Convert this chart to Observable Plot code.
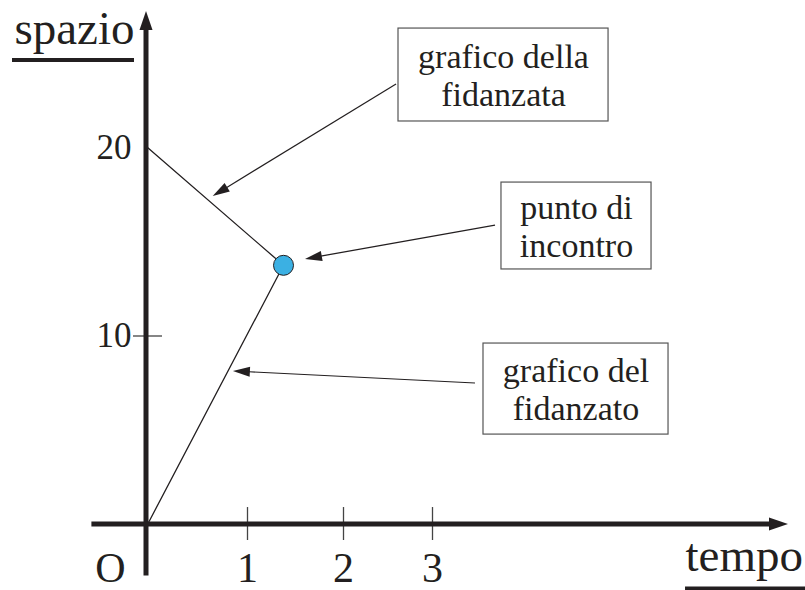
<!DOCTYPE html>
<html>
<head>
<meta charset="utf-8">
<script src="https://cdn.jsdelivr.net/npm/d3@7"></script>
<script src="https://cdn.jsdelivr.net/npm/@observablehq/plot@0.6"></script>
<style>
  html, body { margin: 0; padding: 0; background: #fff; }
  #chart svg { display: block; }
</style>
</head>
<body>
<div id="chart"></div>
<script>
// Time ticks (s) and space ticks (m)
const timeTicks = [1, 2, 3];
const spaceTicks = [10];
const spaceLabels = [20, 10];

// Meeting point: he runs from the origin, she walks back from 20
const meetT = 1.375;
const meetS = 13.75;
const fidanzato = [{t: 0, s: 0}, {t: meetT, s: meetS}];
const fidanzata = [{t: 0, s: 20}, {t: meetT, s: meetS}];

// Callout boxes (data units) and their text
const boxes = [
  {x1: 2.618, x2: 4.978, y1: 21.38, y2: 26.31, text: "grafico della\nfidanzata"},
  {x1: 3.775, x2: 5.461, y1: 13.53, y2: 18.14, text: "punto di\nincontro"},
  {x1: 3.573, x2: 5.652, y1: 4.77, y2: 9.60, text: "grafico del\nfidanzato"}
];

// Callout arrows: tail at the box, tip near the graph
const callouts = [
  {x1: 2.596, y1: 23.34, x2: 0.657, y2: 17.40},
  {x1: 3.708, y1: 15.86, x2: 1.604, y2: 14.06},
  {x1: 3.483, y1: 7.48, x2: 0.859, y2: 8.12}
];

// Axis extents with arrow tips
const axes = [
  {x1: -0.556, y1: 0, x2: 7.0, y2: 0},
  {x1: -0.01, y1: -2.73, x2: -0.01, y2: 27.22}
];

// Filled-head arrows drawn through the plot's x and y scales
function arrows(data, {stroke = "#000", strokeWidth = 1, headLength = 16, headWidth = 9} = {}) {
  return (index, scales) => {
    const g = d3.create("svg:g");
    for (const d of data) {
      const x1 = scales.x(d.x1), y1 = scales.y(d.y1);
      const x2 = scales.x(d.x2), y2 = scales.y(d.y2);
      const a = Math.atan2(y2 - y1, x2 - x1);
      const c = Math.cos(a), s = Math.sin(a);
      const bx = x2 - headLength * c, by = y2 - headLength * s;
      const hw = headWidth / 2;
      g.append("line")
        .attr("x1", x1).attr("y1", y1)
        .attr("x2", bx + c).attr("y2", by + s)
        .attr("stroke", stroke)
        .attr("stroke-width", strokeWidth);
      g.append("path")
        .attr("d", `M${x2},${y2}L${bx - hw * s},${by + hw * c}L${bx + hw * s},${by - hw * c}Z`)
        .attr("fill", stroke);
    }
    return g.node();
  };
}

const ink = "#231f20";
const serif = "Liberation Serif, Times New Roman, serif";

const chart = Plot.plot({
  width: 805,
  height: 590,
  margin: 0,
  style: {fontFamily: serif, background: "#fff", color: ink},
  x: {type: "linear", domain: [0, 1, 2, 3], range: [147, 247, 343, 432], axis: null},
  y: {type: "linear", domain: [0, 20], range: [524, 147], axis: null},
  marks: [
    // tick marks
    Plot.ruleX(timeTicks, {y1: 0.9, y2: -0.85, stroke: "#444", strokeWidth: 1.3}),
    Plot.ruleY(spaceTicks, {x1: -0.14, x2: 0.15, stroke: "#444", strokeWidth: 1.3}),
    // the two graphs
    Plot.line(fidanzata, {x: "t", y: "s", stroke: ink, strokeWidth: 1.3}),
    Plot.line(fidanzato, {x: "t", y: "s", stroke: ink, strokeWidth: 1.3}),
    // axes
    arrows(axes, {stroke: ink, strokeWidth: 5, headLength: 19, headWidth: 13}),
    // meeting point
    Plot.dot([{t: meetT, s: meetS}], {x: "t", y: "s", r: 10, fill: "#3bb0e3", stroke: ink, strokeWidth: 1}),
    // callouts
    arrows(callouts, {stroke: ink, strokeWidth: 1.2, headLength: 17, headWidth: 10}),
    Plot.rect(boxes, {x1: "x1", x2: "x2", y1: "y1", y2: "y2", fill: "#fff", stroke: "#555", strokeWidth: 1.2}),
    Plot.text(boxes, {
      x: d => (d.x1 + d.x2) / 2, y: d => (d.y1 + d.y2) / 2,
      text: "text", fontSize: 34, fontFamily: serif, lineHeight: 1.1, fill: ink,
      lineAnchor: "middle", textAnchor: "middle"
    }),
    // tick labels
    Plot.text(timeTicks, {x: d => d, y: -2.32, text: d => String(d), fontSize: 42, fontFamily: serif, fill: ink, lineAnchor: "middle"}),
    Plot.text(["O"], {x: -0.37, y: -2.32, text: d => d, fontSize: 42, fontFamily: serif, fill: ink, lineAnchor: "middle"}),
    Plot.text(spaceLabels, {x: -0.16, y: d => d, text: d => String(d), fontSize: 35, fontFamily: serif, fill: ink, textAnchor: "end", lineAnchor: "middle"}),
    // axis titles with underlines
    Plot.text(["spazio"], {x: -0.13, y: 25.5, text: d => d, fontSize: 47, fontFamily: serif, fill: ink, textAnchor: "end", lineAnchor: "bottom"}),
    Plot.ruleY([24.64], {x1: -1.35, x2: -0.13, stroke: ink, strokeWidth: 4}),
    Plot.text(["tempo"], {x: 5.843, y: -2.45, text: d => d, fontSize: 47, fontFamily: serif, fill: ink, textAnchor: "start", lineAnchor: "bottom"}),
    Plot.ruleY([-3.39], {x1: 5.843, x2: 7.2, stroke: ink, strokeWidth: 4})
  ]
});

document.getElementById("chart").append(chart);
</script>
</body>
</html>
